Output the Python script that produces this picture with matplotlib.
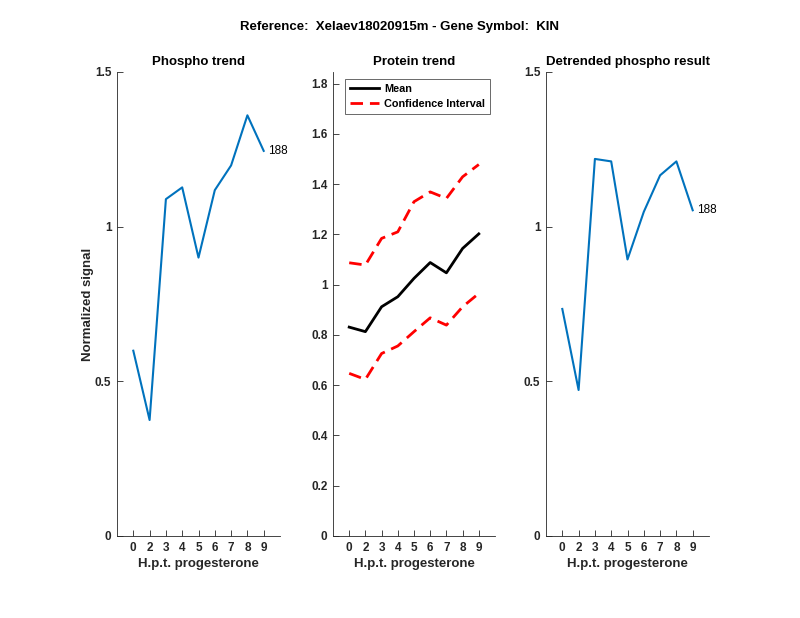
import numpy as np
import matplotlib.pyplot as plt

plt.rcParams['font.family'] = ['Liberation Sans', 'DejaVu Sans']

# time points (h.p.t. progesterone), plotted at positions 1..9
hpt_labels = ["0", "2", "3", "4", "5", "6", "7", "8", "9"]

phospho = [0.599, 0.375, 1.089, 1.127, 0.900, 1.118, 1.198, 1.360, 1.245]
prot_mean = [0.831, 0.813, 0.912, 0.952, 1.025, 1.088, 1.047, 1.144, 1.202]
prot_upper = [1.087, 1.078, 1.184, 1.210, 1.330, 1.369, 1.343, 1.429, 1.478]
prot_lower = [0.647, 0.623, 0.726, 0.756, 0.813, 0.868, 0.839, 0.912, 0.965]
detrended = [0.734, 0.472, 1.219, 1.211, 0.894, 1.048, 1.166, 1.211, 1.053]
site_label = "188"

blue = "#0072BD"
grey = "#262626"
pos = np.arange(1, len(hpt_labels) + 1)

fig = plt.figure(figsize=(8, 6.18), dpi=100)
fig.text(0.5, 1 - 27 / 618, "Reference:  Xelaev18020915m - Gene Symbol:  KIN",
         fontsize=9.5, fontweight="bold", ha="center", va="center")

boxes = [(117, 163), (333, 162), (546, 163)]
axes = []
for x0, w in boxes:
    ax = fig.add_axes([x0 / 800, (618 - 536) / 618, w / 800, 464 / 618])
    axes.append(ax)


def style(ax, ylim, yticks, title):
    ax.set_xlim(0, 10)
    ax.set_ylim(*ylim)
    ax.set_xticks(pos)
    ax.set_xticklabels(hpt_labels)
    ax.set_yticks(yticks)
    ax.set_yticklabels([f"{t:g}" for t in yticks])
    for s in ["top", "right"]:
        ax.spines[s].set_visible(False)
    for s in ["left", "bottom"]:
        ax.spines[s].set_color(grey)
        ax.spines[s].set_linewidth(0.6)
    ax.tick_params(direction="in", length=4, width=0.6, colors=grey,
                   labelsize=8.5, pad=4)
    for lab in ax.get_xticklabels() + ax.get_yticklabels():
        lab.set_fontweight("bold")
    ax.set_title(title, fontsize=9.5, fontweight="bold", pad=5)
    ax.set_xlabel("H.p.t. progesterone", fontsize=9.5, fontweight="bold",
                  color=grey, labelpad=3)


# phospho trend
ax = axes[0]
ax.plot(pos, phospho, color=blue, lw=1.5)
ax.text(pos[-1] + 0.25, phospho[-1], site_label, fontsize=8.5, va="center")
style(ax, (0, 1.5), [0, 0.5, 1, 1.5], "Phospho trend")
ax.set_ylabel("Normalized signal", fontsize=9.5, fontweight="bold",
              color=grey, labelpad=1)

# protein trend
ax = axes[1]
ax.plot(pos, prot_mean, color="k", lw=2, label="Mean")
ax.plot(pos, prot_upper, "r--", lw=2, dashes=(4.5, 2.5), label="Confidence Interval")
ax.plot(pos, prot_lower, "r--", lw=2, dashes=(4.5, 2.5))
style(ax, (0, 1.846), np.round(np.arange(0, 1.81, 0.2), 1), "Protein trend")
leg = ax.legend(loc="upper left", bbox_to_anchor=(12 / 162, 1 - 7 / 464),
                borderaxespad=0, fontsize=7.8, frameon=True, fancybox=False,
                handlelength=2.7, handletextpad=0.45, borderpad=0.45,
                labelspacing=0.45)
leg.get_frame().set_edgecolor(grey)
leg.get_frame().set_linewidth(0.6)
for t in leg.get_texts():
    t.set_fontweight("bold")

# detrended
ax = axes[2]
ax.plot(pos, detrended, color=blue, lw=1.5)
ax.text(pos[-1] + 0.25, detrended[-1], site_label, fontsize=8.5, va="center")
style(ax, (0, 1.5), [0, 0.5, 1, 1.5], "Detrended phospho result")

fig.savefig("out.png", dpi=100)
